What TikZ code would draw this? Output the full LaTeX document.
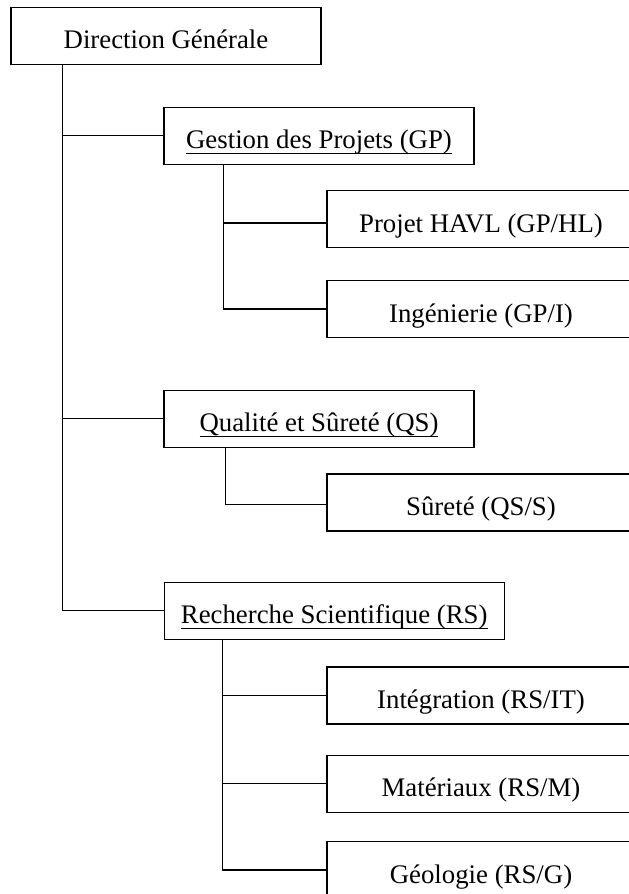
\documentclass[tikz,border=0pt]{standalone}
\usepackage{fontspec}
\setmainfont{Liberation Serif}
\usetikzlibrary{positioning, calc}
\tikzset{
    orgBox/.style={
        draw, line width=1.4pt,
        minimum height=57pt,
        inner xsep=0pt, inner ysep=0pt,
        text height=26pt, text depth=0pt,
        align=center,
        font=\fontsize{26.8}{30}\selectfont
    },
    unitBox/.style={orgBox, minimum width=310pt},
    subBox/.style={orgBox, minimum width=308pt},
    link/.style={line width=1.2pt}
}
\newcommand{\unitName}[1]{%
    \setbox0\hbox{#1}\rlap{\rule[-5.2pt]{\wd0}{1.3pt}}\box0%
}

\begin{document}
\begin{tikzpicture}[x=1pt, y=-1pt]
    \useasboundingbox (0,0) rectangle (629,894);

    % top level
    \node [orgBox, minimum width=310pt] (dg) at (166,35.8) {Direction Générale};

    % departments
    \node [unitBox] (gp) at (319,135.7) {\unitName{Gestion des Projets (GP)}};
    \node [unitBox] (qs) at (319,418.7) {\unitName{Qualité et Sûreté (QS)}};
    \node [orgBox, minimum width=340pt] (rs) at (334.2,610.7) {\unitName{Recherche Scientifique (RS)}};

    % services
    \node [subBox] (havl) at (481,219) {Projet HAVL (GP/HL)};
    \node [subBox] (ing) at (481,309) {Ingénierie (GP/I)};
    \node [subBox] (sur) at (481,502.5) {Sûreté (QS/S)};
    \node [subBox] (integ) at (481,695.3) {Intégration (RS/IT)};
    \node [subBox] (mat) at (481,783.7) {Matériaux (RS/M)};
    \node [subBox] (geo) at (481,870) {Géologie (RS/G)};

    % connectors
    \coordinate (dgTrunk) at ($(dg.south west)+(52,0)$);
    \coordinate (gpTrunk) at ($(gp.south west)+(60,0)$);
    \coordinate (qsTrunk) at ($(qs.south west)+(62,0)$);
    \coordinate (rsTrunk) at ($(rs.south west)+(59,0)$);

    \draw [link] (dgTrunk) |- (gp.west);
    \draw [link] (dgTrunk) |- (qs.west);
    \draw [link] (dgTrunk) |- (rs.west);

    \draw [link] (gpTrunk) |- ([yshift=-4pt]havl.west);
    \draw [link] (gpTrunk) |- (ing.west);
    \draw [link] (qsTrunk) |- ([yshift=-2pt]sur.west);
    \draw [link] (rsTrunk) |- (integ.west);
    \draw [link] (rsTrunk) |- (mat.west);
    \draw [link] (rsTrunk) |- (geo.west);
\end{tikzpicture}
\end{document}
